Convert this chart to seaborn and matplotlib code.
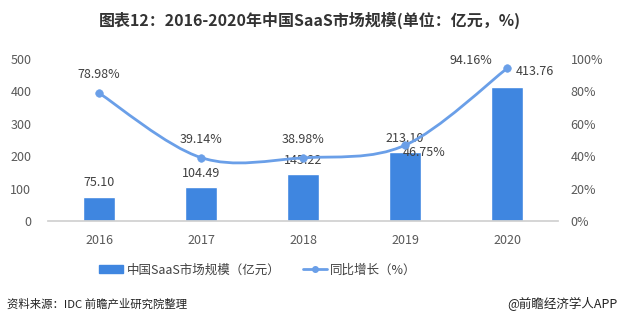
import numpy as np
import pandas as pd
import matplotlib
matplotlib.use("Agg")
import matplotlib.pyplot as plt
import seaborn as sns
from matplotlib.path import Path
from matplotlib.patches import PathPatch, Patch
from matplotlib.lines import Line2D

years = ["2016", "2017", "2018", "2019", "2020"]
market_size = [75.10, 104.49, 145.22, 213.10, 413.76]
growth_pct = [78.98, 39.14, 38.98, 46.75, 94.16]

title = "图表12：2016-2020年中国SaaS市场规模(单位：亿元，%)"
bar_label = "中国SaaS市场规模（亿元）"
line_label = "同比增长（%）"
source = "资料来源：IDC 前瞻产业研究院整理"
credit = "@前瞻经济学人APP"

sns.set_theme(style="white")
plt.rcParams["font.family"] = ["Noto Sans CJK SC", "DejaVu Sans"]

BAR = "#3f86e0"
LINE = "#6a9fe8"
TXT = "#404040"
TICK = "#595959"

fig = plt.figure(figsize=(6.2, 3.24), dpi=100)
ax = fig.add_axes([48 / 620, 1 - 221 / 324, 510 / 620, 162 / 324])

df = pd.DataFrame({"year": years, "size": market_size})
sns.barplot(data=df, x="year", y="size", color=BAR, width=0.31, ax=ax,
            saturation=1)
ax.set_xlim(-0.5, 4.5)
ax.set_ylim(0, 500)
ax.set_yticks([0, 100, 200, 300, 400, 500])
ax.set_xlabel("")
ax.set_ylabel("")
for s in ["top", "right", "left"]:
    ax.spines[s].set_visible(False)
ax.spines["bottom"].set_color("#d0d0d0")
ax.tick_params(axis="both", length=0, labelsize=9, colors=TICK)
ax.tick_params(axis="x", pad=9)
ax.tick_params(axis="y", pad=12)

# bar value labels (offsets in points, label centre)
offsets = [(0, 10), (0, 10), (0, 10), (0, 10), (20, 11)]
for i, v in enumerate(market_size):
    dx, dy = offsets[i]
    ax.annotate(f"{v:.2f}", (i, v), xytext=(dx, dy), textcoords="offset points",
                ha="center", va="center", fontsize=9, color=TXT)

ax2 = ax.twinx()
ax2.set_ylim(0, 100)
ax2.set_yticks([0, 20, 40, 60, 80, 100])
ax2.set_yticklabels([f"{t}%" for t in range(0, 101, 20)])
for s in ["top", "right", "left", "bottom"]:
    ax2.spines[s].set_visible(False)
ax2.tick_params(axis="y", length=0, labelsize=9, colors=TICK, pad=9)

# smooth line (Catmull-Rom -> cubic Bezier)
xs = np.arange(len(years), dtype=float)
ys = np.array(growth_pct, dtype=float)
pts = np.column_stack([xs, ys])
ext = np.vstack([pts[0], pts, pts[-1]])
verts = [tuple(pts[0])]
codes = [Path.MOVETO]
for i in range(len(pts) - 1):
    p0, p1, p2, p3 = ext[i], ext[i + 1], ext[i + 2], ext[i + 3]
    c1 = p1 + (p2 - p0) / 6.0
    c2 = p2 - (p3 - p1) / 6.0
    verts += [tuple(c1), tuple(c2), tuple(p2)]
    codes += [Path.CURVE4] * 3
ax2.add_patch(PathPatch(Path(verts, codes), facecolor="none", edgecolor=LINE,
                        lw=2.0, zorder=3))
sns.scatterplot(x=xs, y=ys, color=LINE, s=30, edgecolor=LINE, ax=ax2, zorder=4)

poff = [(0, 13), (0, 13), (0, 13), (14, -5.5), (-26, 6)]
for i, v in enumerate(growth_pct):
    dx, dy = poff[i]
    ax2.annotate(f"{v:.2f}%", (i, v), xytext=(dx, dy), textcoords="offset points",
                 ha="center", va="center", fontsize=9, color=TXT)

handles = [Patch(facecolor=BAR, edgecolor=BAR),
           Line2D([], [], color=LINE, lw=2, marker="o", markersize=4)]
fig.legend(handles, [bar_label, line_label], loc="center",
           bbox_to_anchor=(258 / 620, 1 - 270 / 324), ncol=2, frameon=False,
           fontsize=9, handlelength=1.9, handleheight=0.6, columnspacing=1.8,
           handletextpad=0.3, labelcolor=TXT)

fig.text(0.5, 1 - 20 / 324, title, ha="center", va="center", fontsize=11.5,
         fontweight="bold", color="#333333")
fig.text(7 / 620, 1 - 304 / 324, source, ha="left", va="center", fontsize=8.2,
         color="#222222")
fig.text(617 / 620, 1 - 304 / 324, credit, ha="right", va="center", fontsize=9,
         color="#222222")

fig.savefig("out.png", dpi=100)
